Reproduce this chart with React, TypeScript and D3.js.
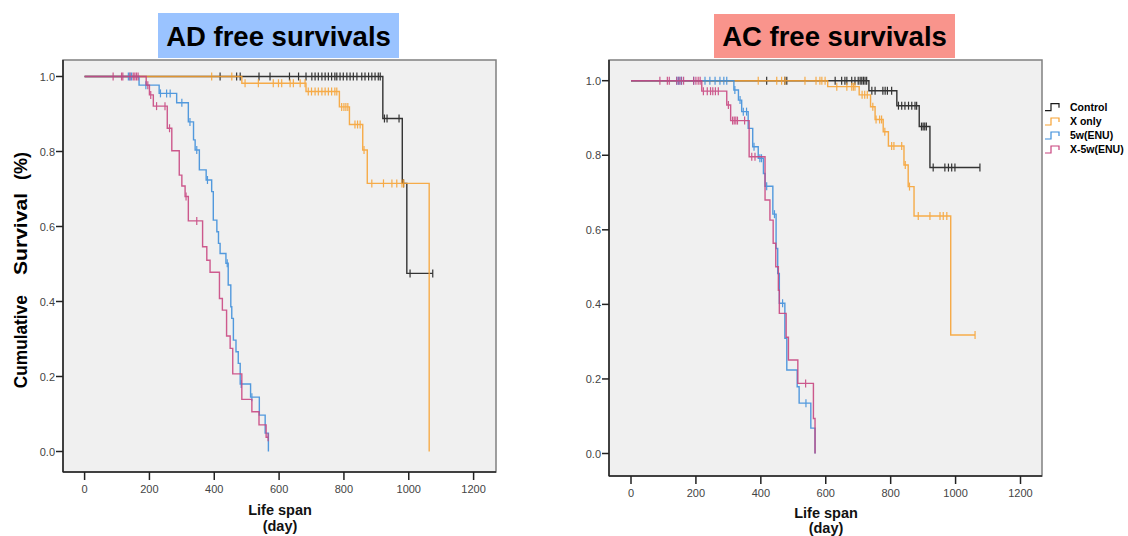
import React from 'react';
import * as d3 from 'd3';

type Step = [number, number];

const xTicks = [0, 200, 400, 600, 800, 1000, 1200];
const yTicks = [0, 0.2, 0.4, 0.6, 0.8, 1.0];
const groupNames = ['Control', 'X only', '5w(ENU)', 'X-5w(ENU)'];
const groupColors = ['#1a1a1a', '#f7a232', '#3d8edb', '#c8447f'];

// ---- AD free survivals (left) ----
const adControlSteps: Step[] = [[920, 0.888], [980, 0.715], [994, 0.475]];
const adControlCensor = [418, 469, 480, 538, 572, 632, 660, 683, 701, 711, 721, 732, 742, 752, 762, 772, 778, 788, 798, 809, 819, 829, 840, 855, 865, 876, 886, 896, 906, 912, 925, 933, 970, 984, 1004, 1074];
const adXonlySteps: Step[] = [[485, 0.982], [683, 0.96], [786, 0.919], [817, 0.872], [858, 0.804], [872, 0.715], [1063, 0]];
const adXonlyCensor = [392, 454, 495, 536, 582, 598, 608, 634, 644, 665, 680, 690, 700, 711, 721, 732, 742, 752, 762, 772, 778, 793, 800, 806, 812, 834, 842, 850, 862, 886, 922, 948, 963, 979, 984];
const ad5wSteps: Step[] = [[168, 0.977], [230, 0.955], [284, 0.93], [320, 0.879], [336, 0.831], [341, 0.804], [354, 0.751], [375, 0.724], [392, 0.693], [397, 0.617], [408, 0.586], [413, 0.555], [418, 0.528], [436, 0.502], [443, 0.444], [451, 0.386], [454, 0.355], [459, 0.297], [467, 0.266], [474, 0.235], [480, 0.18], [512, 0.145], [539, 0.097], [557, 0.049], [567, 0]];
const ad5wCensor = [135, 140, 145, 189, 234, 253, 264, 300, 325, 346, 379, 440, 483, 516];
const adX5wSteps: Step[] = [[190, 0.977], [200, 0.951], [212, 0.921], [255, 0.862], [269, 0.802], [292, 0.737], [300, 0.708], [310, 0.68], [320, 0.615], [364, 0.546], [377, 0.51], [387, 0.478], [416, 0.408], [425, 0.377], [438, 0.308], [449, 0.275], [457, 0.207], [485, 0.139], [516, 0.106], [538, 0.071], [560, 0.038]];
const adX5wCensor = [88, 114, 118, 140, 150, 155, 160, 165, 195, 204, 222, 248, 262, 313, 346, 566];

// ---- AC free survivals (right) ----
const acControlSteps: Step[] = [[733, 0.973], [819, 0.933], [888, 0.877], [921, 0.767]];
const acControlCensor = [418, 474, 480, 629, 649, 659, 665, 680, 690, 700, 706, 711, 716, 721, 726, 742, 752, 776, 783, 790, 803, 824, 834, 844, 855, 865, 875, 880, 895, 900, 905, 910, 931, 967, 978, 988, 998, 1075];
const acXonlySteps: Step[] = [[606, 0.984], [703, 0.962], [738, 0.93], [752, 0.896], [777, 0.863], [793, 0.825], [841, 0.774], [854, 0.716], [872, 0.637], [985, 0.318]];
const acXonlyCensor = [392, 449, 464, 474, 536, 570, 582, 588, 598, 634, 665, 680, 685, 690, 712, 720, 728, 745, 755, 766, 772, 782, 803, 810, 834, 845, 858, 885, 921, 952, 962, 973, 1060];
const ac5wSteps: Step[] = [[317, 0.975], [331, 0.948], [341, 0.917], [361, 0.872], [375, 0.823], [392, 0.792], [408, 0.751], [413, 0.717], [437, 0.642], [447, 0.55], [452, 0.483], [457, 0.403], [474, 0.309], [480, 0.224], [512, 0.179], [518, 0.135], [554, 0.068], [567, 0]];
const ac5wCensor = [141, 146, 151, 156, 193, 228, 243, 259, 274, 286, 295, 320, 336, 346, 356, 379, 397, 402, 418, 442, 467, 539];
const acX5wSteps: Step[] = [[218, 0.972], [295, 0.935], [307, 0.893], [364, 0.796], [413, 0.68], [428, 0.626], [438, 0.564], [446, 0.501], [454, 0.438], [457, 0.376], [478, 0.312], [485, 0.251], [514, 0.188], [562, 0.094], [567, 0]];
const acX5wCensor = [89, 112, 118, 141, 148, 155, 162, 193, 200, 207, 213, 223, 235, 245, 252, 260, 269, 300, 313, 318, 323, 328, 350, 372, 382, 538];

const FONT = "'Liberation Sans', Arial, sans-serif";

interface Series { steps: Step[]; censor: number[]; color: string; }

function survAt(steps: Step[], t: number) {
  let s = 1;
  for (const [tt, v] of steps) if (tt <= t) s = v;
  return s;
}

interface PanelProps {
  frame: { x0: number; x1: number; y0: number; y1: number };
  xRange: [number, number];
  yRange: [number, number];
  series: Series[];
  tickLen: number;
  labelGap: number;
  xTitle: { x: number; y1: number; y2: number };
}

function Panel({ frame, xRange, yRange, series, tickLen, labelGap, xTitle }: PanelProps) {
  const x = d3.scaleLinear().domain([0, 1200]).range(xRange);
  const y = d3.scaleLinear().domain([0, 1]).range(yRange);
  const line = d3.line<Step>().x(d => x(d[0])).y(d => y(d[1])).curve(d3.curveStepAfter);
  const fmt = d3.format('.1f');
  return (
    <g>
      <rect x={frame.x0} y={frame.y0} width={frame.x1 - frame.x0} height={frame.y1 - frame.y0}
        fill="#f0f0f0" stroke="#808080" strokeWidth={1.5} />
      <line x1={frame.x0} x2={frame.x0} y1={frame.y0} y2={frame.y1} stroke="#222" strokeWidth={1.5} />
      <line x1={frame.x0} x2={frame.x1} y1={frame.y1} y2={frame.y1} stroke="#222" strokeWidth={1.5} />
      {xTicks.map(t => (
        <g key={'x' + t}>
          <line x1={x(t)} x2={x(t)} y1={frame.y1} y2={frame.y1 + tickLen} stroke="#222" strokeWidth={1.5} />
          <text x={x(t)} y={frame.y1 + labelGap} textAnchor="middle" fontSize={11} fill="#444" fontFamily={FONT}>{t}</text>
        </g>
      ))}
      {yTicks.map(t => (
        <g key={'y' + t}>
          <line x1={frame.x0 - 7} x2={frame.x0} y1={y(t)} y2={y(t)} stroke="#222" strokeWidth={1.5} />
          <text x={frame.x0 - 8} y={y(t) + 4} textAnchor="end" fontSize={11} fill="#444" fontFamily={FONT}>{fmt(t)}</text>
        </g>
      ))}
      {series.map((s, i) => {
        const lastEvent = s.steps.length ? s.steps[s.steps.length - 1][0] : 0;
        const end = Math.max(lastEvent, ...s.censor);
        const lastS = s.steps.length ? s.steps[s.steps.length - 1][1] : 1;
        const pts: Step[] = [[0, 1], ...s.steps, [end, lastS]];
        return (
          <g key={'s' + i} opacity={0.88}>
            <path d={line(pts) || ''} fill="none" stroke={s.color} strokeWidth={1.4} />
            {s.censor.map((c, j) => {
              const sv = survAt(s.steps, c);
              return <line key={j} x1={x(c)} x2={x(c)} y1={y(sv) - 4} y2={y(sv) + 4} stroke={s.color} strokeWidth={1.2} />;
            })}
          </g>
        );
      })}
      <text x={xTitle.x} y={xTitle.y1} textAnchor="middle" fontSize={14.5} fontWeight="bold" fontFamily={FONT} fill="#111">Life span</text>
      <text x={xTitle.x} y={xTitle.y2} textAnchor="middle" fontSize={14.5} fontWeight="bold" fontFamily={FONT} fill="#111">(day)</text>
    </g>
  );
}

export default function App() {
  const adSeries: Series[] = [
    { steps: adControlSteps, censor: adControlCensor, color: groupColors[0] },
    { steps: adXonlySteps, censor: adXonlyCensor, color: groupColors[1] },
    { steps: ad5wSteps, censor: ad5wCensor, color: groupColors[2] },
    { steps: adX5wSteps, censor: adX5wCensor, color: groupColors[3] },
  ];
  const acSeries: Series[] = [
    { steps: acControlSteps, censor: acControlCensor, color: groupColors[0] },
    { steps: acXonlySteps, censor: acXonlyCensor, color: groupColors[1] },
    { steps: ac5wSteps, censor: ac5wCensor, color: groupColors[2] },
    { steps: acX5wSteps, censor: acX5wCensor, color: groupColors[3] },
  ];
  const legendY = [110.7, 125, 139, 153];
  return (
    <svg width={1128} height={536} style={{ position: 'absolute', left: 0, top: 0, background: '#fff' }}>
      {/* titles */}
      <rect x={158} y={13} width={241} height={45} fill="#9ac3ff" />
      <text x={278.5} y={46} textAnchor="middle" fontSize={27.5} fontWeight="bold" fontFamily={FONT} fill="#000">AD free survivals</text>
      <rect x={714} y={14} width={241} height={44} fill="#f9948c" />
      <text x={834.5} y={46} textAnchor="middle" fontSize={27.5} fontWeight="bold" fontFamily={FONT} fill="#000">AC free survivals</text>

      {/* y axis title (left) */}
      <g fontSize={18} fontWeight="bold" fontFamily={FONT} fill="#000">
        <text transform="translate(26.5,341.7) rotate(-90)" textAnchor="middle" textLength={93} lengthAdjust="spacingAndGlyphs">Cumulative</text>
        <text transform="translate(26.5,234) rotate(-90)" textAnchor="middle" textLength={82} lengthAdjust="spacingAndGlyphs">Survival</text>
        <text transform="translate(26.5,166) rotate(-90)" textAnchor="middle" textLength={28} lengthAdjust="spacingAndGlyphs">(%)</text>
      </g>

      <Panel frame={{ x0: 63, x1: 496, y0: 60, y1: 472 }} xRange={[84.6, 473.6]} yRange={[451.5, 76.5]}
        series={adSeries} tickLen={8} labelGap={20.5} xTitle={{ x: 280, y1: 515, y2: 531 }} />
      <Panel frame={{ x0: 609, x1: 1042, y0: 60, y1: 476 }} xRange={[631, 1020.5]} yRange={[453.5, 80.7]}
        series={acSeries} tickLen={8} labelGap={20.5} xTitle={{ x: 826, y1: 517.5, y2: 533 }} />

      {/* legend */}
      {groupNames.map((n, i) => (
        <g key={n}>
          <path d={`M1045,${legendY[i]}H1051V${legendY[i] - 7}H1059V${legendY[i] - 3}`} fill="none" stroke={groupColors[i]} strokeWidth={1.2} />
          <text x={1070} y={legendY[i]} fontSize={10.5} fontWeight="bold" fontFamily={FONT} fill="#000">{n}</text>
        </g>
      ))}
    </svg>
  );
}
